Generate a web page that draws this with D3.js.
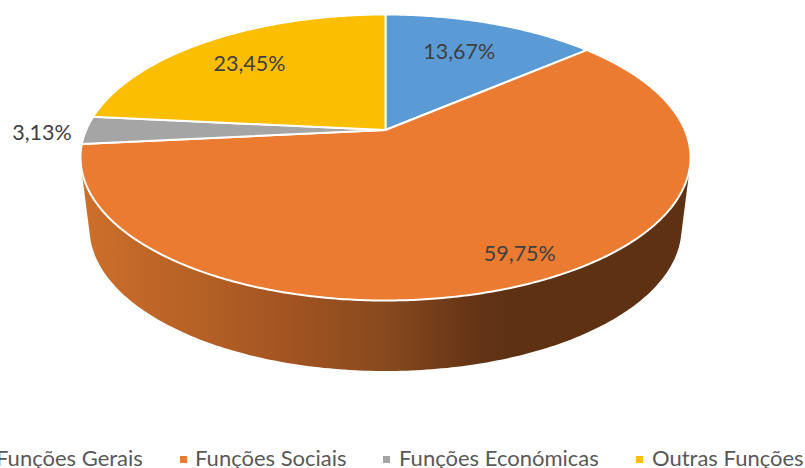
<!DOCTYPE html>
<html><head><meta charset="utf-8">
<script src="https://cdn.jsdelivr.net/npm/d3@7"></script>
<style>html,body{margin:0;padding:0;background:#fff;overflow:hidden}svg{display:block}text{font-family:Lato,"Open Sans",sans-serif}</style>
</head><body><svg id="c" width="805" height="468"></svg>
<script>
const categories = ["Funções Gerais","Funções Sociais","Funções Económicas","Outras Funções"];
const values = [13.67,59.75,3.13,23.45];
const labels = ["13,67%","59,75%","3,13%","23,45%"];
const colors = ["#5b9bd5","#ea7b31","#a5a5a5","#fbbe00"];

// layout (perspective pie)
const W=805,H=468, cx=385.5, apexY=130, topY=14.5, botY=300.5, rxMax=305;
const k=(botY+topY-2*apexY)/(botY-topY);
const A=topY*(1+k)-apexY;
const C=rxMax*Math.sqrt(1-k*k);
const project=(a,r=1)=>{const v=Math.cos(a)*r,w=1+k*v;return [cx+C*Math.sin(a)*r/w,(A*v+apexY)/w];};
const labelR=[0.7,0.7,0.7,0.7];
const labelOffset=[[-4,-1],[40,22],[-134,2],[-8,-2]];
const legendX=[-25,180,383,636];
const legendTextX=[-4,195,399,652];

const svg=d3.select("#c");
const defs=svg.append("defs");
const grad=defs.append("linearGradient").attr("id","wall").attr("gradientUnits","userSpaceOnUse")
  .attr("x1",85).attr("x2",690).attr("y1",0).attr("y2",0);
[[0,"#cc6f2a"],[0.2,"#b45f25"],[0.35,"#a05321"],[0.5,"#87491e"],[0.65,"#633315"],[0.72,"#5e3113"],[1,"#5e3113"]]
  .forEach(([o,c])=>grad.append("stop").attr("offset",o).attr("stop-color",c));

// wall = hull of top rim and bottom rim
const wallCy=228,wallRy=143,wallRx=296;
const samples=d3.range(0,360,1).map(d=>d*Math.PI/180);
const rimPts=samples.map(a=>project(a)).concat(samples.map(a=>[cx+wallRx*Math.sin(a),wallCy+wallRy*Math.cos(a)]));
svg.append("path").attr("d","M"+d3.polygonHull(rimPts).join("L")+"Z").attr("fill","url(#wall)");

// top slices
const pie=d3.pie().sort(null).value(d=>d)(values);
const line=d3.line();
const slicePath=d=>{
  const n=Math.ceil((d.endAngle-d.startAngle)/0.01);
  const pts=d3.range(n+1).map(i=>project(d.startAngle+(d.endAngle-d.startAngle)*i/n));
  return line([project(0,0),...pts])+"Z";
};
svg.append("g").selectAll("path").data(pie).join("path")
  .attr("d",slicePath).attr("fill",(d,i)=>colors[i]).attr("stroke","#fff").attr("stroke-width",2).attr("stroke-linejoin","round");

// data labels
svg.append("g").selectAll("text").data(pie).join("text")
  .each(function(d,i){
    const p=project((d.startAngle+d.endAngle)/2,labelR[i]);
    d3.select(this).attr("x",p[0]+labelOffset[i][0]).attr("y",p[1]+labelOffset[i][1]);
  })
  .attr("text-anchor","middle").attr("dominant-baseline","central")
  .attr("font-size",21.5).attr("fill","#404040").text((d,i)=>labels[i]);

// legend
const lg=svg.append("g");
lg.selectAll("rect").data(categories).join("rect")
  .attr("x",(d,i)=>legendX[i]).attr("y",456).attr("width",7).attr("height",7).attr("fill",(d,i)=>colors[i]);
lg.selectAll("text").data(categories).join("text")
  .attr("x",(d,i)=>legendTextX[i]).attr("y",466).attr("font-size",22).attr("fill","#595959").text(d=>d);
</script></body></html>
